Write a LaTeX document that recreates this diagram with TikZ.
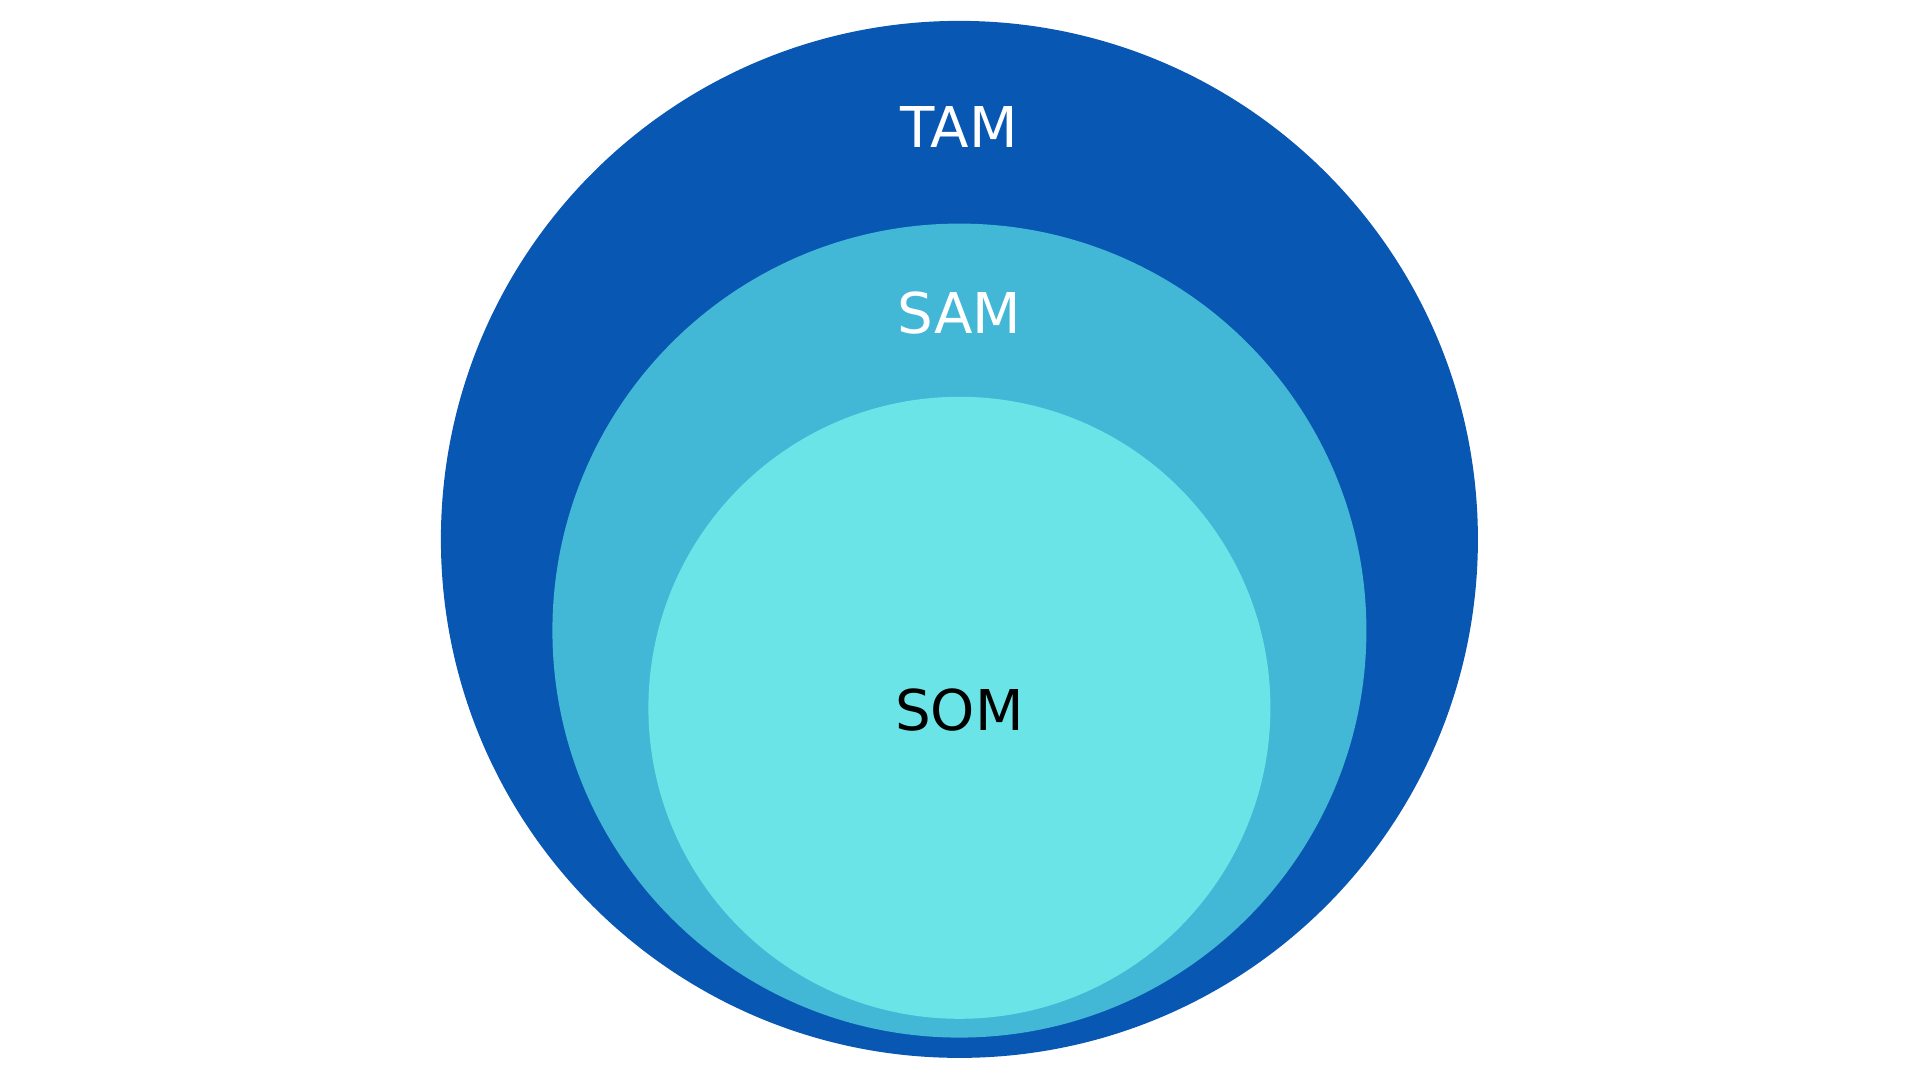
\documentclass[tikz,border=0pt]{standalone}
\usepackage{fontspec}
\setmainfont{DejaVu Sans}
\usepackage{tikz}
\usetikzlibrary{positioning}
\definecolor{tamblue}{HTML}{0857B3}
\definecolor{samblue}{HTML}{42B8D6}
\definecolor{somcyan}{HTML}{6BE4E8}

\begin{document}
\begin{tikzpicture}[
    every node/.style={font=\fontsize{16}{18}\selectfont},
    market/.style={circle, inner sep=0pt, draw=none},
    tag/.style={inner sep=0pt, anchor=center},
]
\useasboundingbox (0,0) rectangle (19.2,10.8);
\fill[white] (0,0) rectangle (19.2,10.8);
\node[market, fill=tamblue, minimum size=10.37cm] (tam) at (9.594,5.406) {};
\node[market, fill=samblue, minimum size=8.14cm] (sam) at (9.594,4.494) {};
\node[market, fill=somcyan, minimum size=6.22cm] (som) at (9.594,3.722) {};
\node[tag, text=white] (tamlabel) at (9.594,9.53) {TAM};
\node[tag, text=white] (samlabel) at (9.594,7.665) {SAM};
\node[tag, text=black] (somlabel) at (9.594,3.70) {SOM};
\end{tikzpicture}
\end{document}
